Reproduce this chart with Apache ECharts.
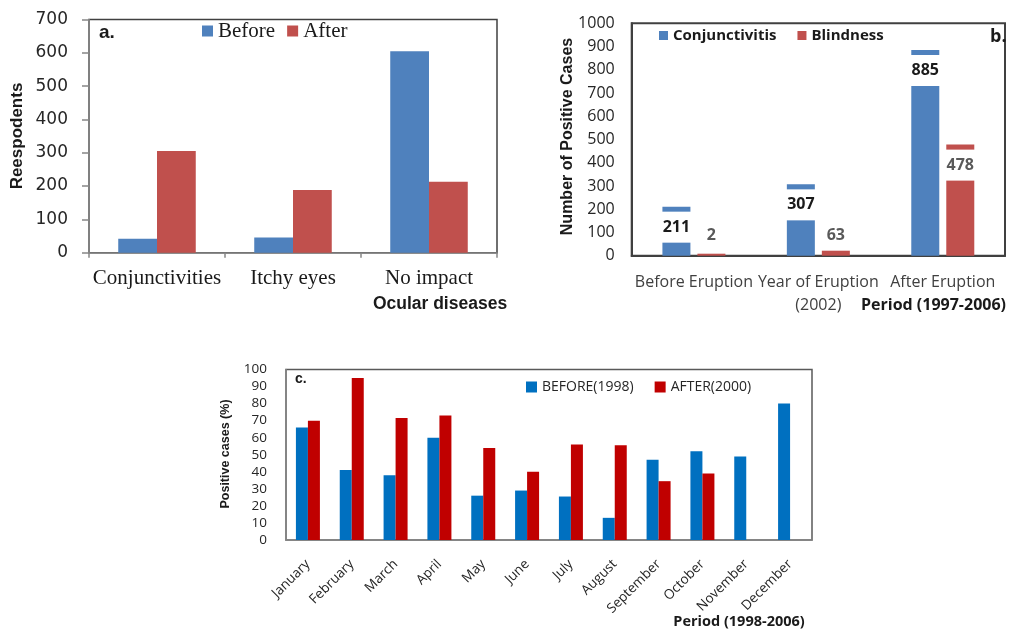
<!DOCTYPE html>
<html>
<head>
<meta charset="utf-8">
<title>Ocular diseases</title>
<script src="https://cdn.jsdelivr.net/npm/echarts@6/dist/echarts.min.js"></script>
<style>
  html, body { margin: 0; padding: 0; background: #fff; }
  #chart { width: 1010px; height: 630px; }
</style>
</head>
<body>
<div id="chart"></div>
<script>
// Panel a: respondents by ocular disease
const diseaseCategories = ['Conjunctivities', 'Itchy eyes', 'No impact'];
const respondentsBefore = [42, 46, 605];
const respondentsAfter = [305, 188, 213];

// Panel b: positive cases by eruption period
const periodCategories = ['Before Eruption', 'Year of Eruption\n(2002)', 'After Eruption'];
const conjunctivitisCases = [211, 307, 885];
const blindnessCases = [2, 63, 478];

// Panel c: monthly positive cases (%)
const months = ['January', 'February', 'March', 'April', 'May', 'June', 'July',
  'August', 'September', 'October', 'November', 'December'];
const before1998 = [66, 41, 38, 60, 26, 29, 25.5, 13, 47, 52, 49, 80];
const after2000 = [70, 95, 71.5, 73, 54, 40, 56, 55.5, 34.5, 39, null, null];

const SERIF = '"Liberation Serif", "DejaVu Serif", serif';
const SANS = '"Liberation Sans", Arial, sans-serif';
const OPEN = '"Open Sans", "Liberation Sans", sans-serif';

// Value labels in panel b sit in a white box that cuts through the bar top;
// short bars keep the box just above the axis instead.
function caseItems(values, color) {
  return values.map(v => ({
    value: v,
    label: v < 120
      ? { position: 'insideBottom', distance: 5, color: color }
      : { position: 'insideTop', distance: 5, color: color },
  }));
}

function caseLabel() {
  return {
    show: true,
    formatter: '{c}',
    backgroundColor: '#ffffff',
    width: 30,
    height: 31,
    lineHeight: 31,
    fontFamily: OPEN,
    fontWeight: 'bold',
    fontSize: 16,
  };
}

const chart = echarts.init(document.getElementById('chart'), null, { renderer: 'canvas' });

chart.setOption({
  animation: false,
  backgroundColor: '#ffffff',
  grid: [
    { left: 89, top: 19.5, width: 408, height: 233.2, show: true, borderColor: '#404040', borderWidth: 1.5 },
    { left: 631.7, top: 23.3, width: 373.3, height: 232.4, show: true, borderColor: '#404040', borderWidth: 2 },
    { left: 286, top: 369.5, width: 526, height: 170.5, show: true, borderColor: '#595959', borderWidth: 1.5 },
  ],
  legend: [
    {
      data: ['Before', 'After'],
      left: 202, top: 20.5, padding: 0,
      itemWidth: 11, itemHeight: 11, itemGap: 12,
      icon: 'rect',
      textStyle: { fontFamily: SERIF, fontSize: 21, color: '#1a1a1a' },
    },
    {
      data: ['Conjunctivitis', 'Blindness'],
      left: 659, top: 28, padding: 0,
      itemWidth: 9, itemHeight: 9, itemGap: 21,
      icon: 'rect',
      textStyle: { fontFamily: OPEN, fontWeight: 'bold', fontSize: 15, color: '#1a1a1a' },
    },
    {
      data: ['BEFORE(1998)', 'AFTER(2000)'],
      left: 526, top: 380, padding: 0,
      itemWidth: 11, itemHeight: 11, itemGap: 21,
      icon: 'rect',
      textStyle: { fontFamily: OPEN, fontSize: 14, color: '#262626' },
    },
  ],
  xAxis: [
    {
      gridIndex: 0, type: 'category', data: diseaseCategories,
      axisLine: { lineStyle: { color: '#868686', width: 1.5 } },
      axisTick: { show: true, length: 5, lineStyle: { color: '#868686', width: 1.5 } },
      axisLabel: { fontFamily: SERIF, fontSize: 21, color: '#1a1a1a', margin: 15, interval: 0 },
    },
    {
      gridIndex: 1, type: 'category', data: periodCategories,
      axisLine: { lineStyle: { color: '#404040', width: 2 } },
      axisTick: { show: false },
      axisLabel: { fontFamily: OPEN, fontSize: 16, color: '#404040', margin: 15, lineHeight: 23, interval: 0 },
    },
    {
      gridIndex: 2, type: 'category', data: months,
      axisLine: { lineStyle: { color: '#868686', width: 1.5 } },
      axisTick: { show: false },
      axisLabel: { fontFamily: OPEN, fontSize: 13.5, color: '#262626', margin: 22, rotate: 45, interval: 0 },
    },
  ],
  yAxis: [
    {
      gridIndex: 0, type: 'value', min: 0, max: 700, interval: 100,
      axisLine: { show: true, lineStyle: { color: '#868686', width: 1.5 } },
      axisTick: { show: true, length: 7, lineStyle: { color: '#868686', width: 1.5 } },
      splitLine: { show: false },
      axisLabel: { fontFamily: '"DejaVu Sans", sans-serif', fontSize: 17, color: '#262626', margin: 21 },
    },
    {
      gridIndex: 1, type: 'value', min: 0, max: 1000, interval: 100,
      axisLine: { show: true, lineStyle: { color: '#404040', width: 2 } },
      axisTick: { show: false },
      splitLine: { show: false },
      axisLabel: { fontFamily: OPEN, fontSize: 16, color: '#262626', margin: 17, formatter: v => String(v) },
    },
    {
      gridIndex: 2, type: 'value', min: 0, max: 100, interval: 10,
      axisLine: { show: true, lineStyle: { color: '#868686', width: 1.5 } },
      axisTick: { show: false },
      splitLine: { show: false },
      axisLabel: { fontFamily: OPEN, fontSize: 13.5, color: '#262626', margin: 19 },
    },
  ],
  series: [
    {
      name: 'Before', type: 'bar', xAxisIndex: 0, yAxisIndex: 0,
      data: respondentsBefore, barGap: '0%', barCategoryGap: '43%',
      itemStyle: { color: '#4F81BD' },
    },
    {
      name: 'After', type: 'bar', xAxisIndex: 0, yAxisIndex: 0,
      data: respondentsAfter, barGap: '0%', barCategoryGap: '43%',
      itemStyle: { color: '#C0504D' },
    },
    {
      name: 'Conjunctivitis', type: 'bar', xAxisIndex: 1, yAxisIndex: 1,
      data: caseItems(conjunctivitisCases, '#1a1a1a'),
      barWidth: 28, barGap: '25%',
      itemStyle: { color: '#4F81BD' },
      label: caseLabel(),
    },
    {
      name: 'Blindness', type: 'bar', xAxisIndex: 1, yAxisIndex: 1,
      data: caseItems(blindnessCases, '#595959'),
      barWidth: 28, barGap: '25%', barMinHeight: 2,
      itemStyle: { color: '#C0504D' },
      label: caseLabel(),
    },
    {
      name: 'BEFORE(1998)', type: 'bar', xAxisIndex: 2, yAxisIndex: 2,
      data: before1998, barGap: '0%', barWidth: 12,
      itemStyle: { color: '#0070C0' },
    },
    {
      name: 'AFTER(2000)', type: 'bar', xAxisIndex: 2, yAxisIndex: 2,
      data: after2000, barGap: '0%', barWidth: 12,
      itemStyle: { color: '#C00000' },
    },
  ],
  graphic: [
    { type: 'text', x: 99, y: 33,
      style: { text: 'a.', font: 'bold 19px ' + SANS, fill: '#1a1a1a', textAlign: 'left', textVerticalAlign: 'middle' } },
    { type: 'text', x: 17, y: 136, rotation: Math.PI / 2,
      style: { text: 'Reespodents', font: 'bold 17px ' + SANS, fill: '#1a1a1a', textAlign: 'center', textVerticalAlign: 'middle' } },
    { type: 'text', x: 440, y: 304,
      style: { text: 'Ocular diseases', font: 'bold 17.5px ' + SANS, fill: '#1a1a1a', textAlign: 'center', textVerticalAlign: 'middle' } },

    { type: 'text', x: 990, y: 37,
      style: { text: 'b.', font: 'bold 18px ' + OPEN, fill: '#1a1a1a', textAlign: 'left', textVerticalAlign: 'middle' } },
    { type: 'text', x: 568, y: 136.5, rotation: Math.PI / 2,
      style: { text: 'Number of Positive Cases', font: 'bold 16px ' + SANS, fill: '#1a1a1a', textAlign: 'center', textVerticalAlign: 'middle' } },
    { type: 'text', x: 933.5, y: 305,
      style: { text: 'Period (1997-2006)', font: 'bold 16px ' + OPEN, fill: '#1a1a1a', textAlign: 'center', textVerticalAlign: 'middle' } },

    { type: 'text', x: 295, y: 379,
      style: { text: 'c.', font: 'bold 14px ' + SANS, fill: '#1a1a1a', textAlign: 'left', textVerticalAlign: 'middle' } },
    { type: 'text', x: 226, y: 454, rotation: Math.PI / 2,
      style: { text: 'Positive cases (%)', font: 'bold 12.5px ' + SANS, fill: '#1a1a1a', textAlign: 'center', textVerticalAlign: 'middle' } },
    { type: 'text', x: 739, y: 622,
      style: { text: 'Period (1998-2006)', font: 'bold 14.5px ' + OPEN, fill: '#1a1a1a', textAlign: 'center', textVerticalAlign: 'middle' } },
  ],
});
</script>
</body>
</html>
